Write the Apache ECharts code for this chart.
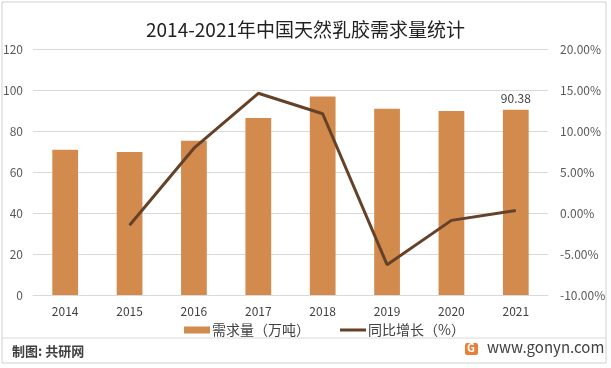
<!DOCTYPE html>
<html><head><meta charset="utf-8">
<script src="https://cdn.jsdelivr.net/npm/echarts@6/dist/echarts.min.js"></script>
<style>html,body{margin:0;padding:0;background:#fff}#c{width:611px;height:368px}</style>
</head><body><div id="c"></div>
<script>
const categories = ['2014','2015','2016','2017','2018','2019','2020','2021'];
const demand = [70.8, 69.8, 75.2, 86.4, 96.8, 90.8, 89.8, 90.38];
const growth = [null, -1.5, 7.9, 14.6, 12.1, -6.3, -0.9, 0.3];
const leftTicks = [0, 20, 40, 60, 80, 100, 120];
const rightTicks = [-10, -5, 0, 5, 10, 15, 20];
const titleText = '2014-2021年中国天然乳胶需求量统计';
const sourceText = '制图: 共研网';
const siteText = 'www.gonyn.com';

const font = '"Noto Sans CJK SC", "Noto Sans", sans-serif';
const chart = echarts.init(document.getElementById('c'), null, {renderer:'canvas'});
chart.setOption({
  animation: false,
  textStyle: {fontFamily: font},
  title: {text: titleText, left: 'center', top: 15, textStyle: {fontSize: 19, fontWeight: 'normal', color: '#222', fontFamily: font}},
  grid: {left: 33, right: 63, top: 49, bottom: 73},
  legend: {
    bottom: 26, left: 179, itemGap: 30, itemWidth: 26, itemHeight: 7,
    textStyle: {fontSize: 14, color: '#404040', fontFamily: font, padding: [0,0,0,-3]},
    data: [{name: '需求量（万吨）', icon: 'rect'}, {name: '同比增长（%）', icon: 'path://M0,0 L26,0 L26,3 L0,3 Z'}]
  },
  xAxis: {
    type: 'category', data: categories,
    axisLine: {lineStyle: {color: '#d9d9d9'}}, axisTick: {show: false},
    axisLabel: {color: '#404040', fontSize: 12, margin: 10}
  },
  yAxis: [{
    type: 'value', min: leftTicks[0], max: leftTicks[leftTicks.length-1], interval: 20,
    axisLine: {show: false}, axisTick: {show: false},
    splitLine: {lineStyle: {color: '#d9d9d9'}},
    axisLabel: {color: '#595959', fontSize: 12, margin: 10}
  }, {
    type: 'value', min: rightTicks[0], max: rightTicks[rightTicks.length-1], interval: 5,
    axisLine: {show: false}, axisTick: {show: false}, splitLine: {show: false},
    axisLabel: {color: '#595959', fontSize: 12, margin: 12, formatter: v => v.toFixed(2) + '%'}
  }],
  series: [{
    name: '需求量（万吨）', type: 'bar', data: demand, barWidth: '40%',
    itemStyle: {color: '#D38B4D'},
    label: {show: true, position: 'top', color: '#404040', fontSize: 12,
      formatter: p => p.dataIndex === demand.length - 1 ? String(p.value) : ''}
  }, {
    name: '同比增长（%）', type: 'line', yAxisIndex: 1, data: growth,
    symbol: 'none', lineStyle: {color: '#654128', width: 3}, itemStyle: {color: '#654128'}
  }],
  graphic: [
    {type: 'rect', shape: {x: 2, y: 2, width: 604, height: 361}, style: {fill: 'none', stroke: '#d0d0d0', lineWidth: 1}, silent: true},
    {type: 'line', shape: {x1: 2, y1: 338, x2: 606, y2: 338}, style: {stroke: '#d9d9d9', lineWidth: 1}},
    {type: 'text', left: 12, top: 345, style: {text: sourceText, font: 'bold 13px ' + font, fill: '#404040'}},
    {type: 'rect', shape: {x: 465, y: 343, width: 13, height: 12, r: 2}, style: {fill: '#E8803A'}},
    {type: 'text', left: 467, top: 342, style: {text: 'G', font: 'bold 11px ' + font, fill: '#fff'}},
    {type: 'text', left: 487, top: 340, style: {text: siteText, font: '15px ' + font, fill: '#404040'}}
  ]
});
</script></body></html>
